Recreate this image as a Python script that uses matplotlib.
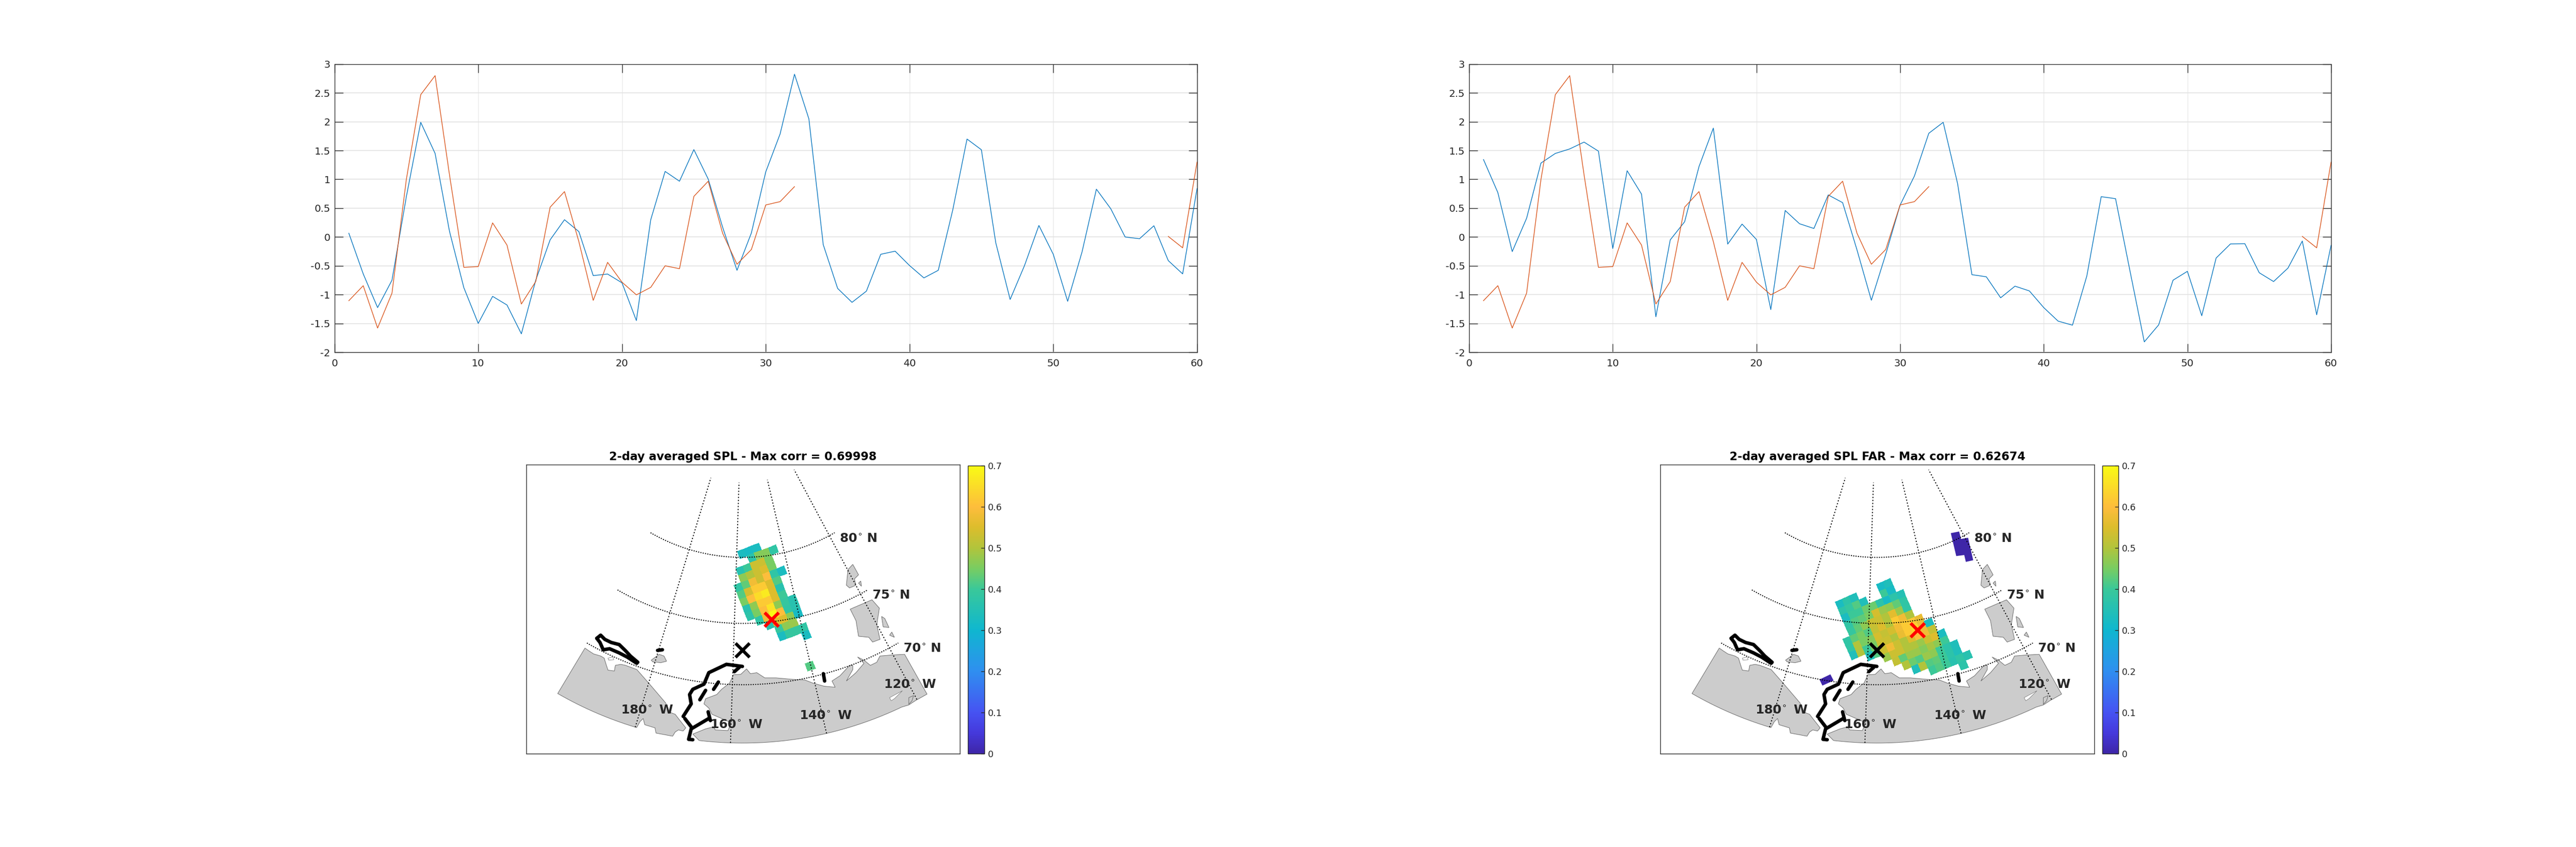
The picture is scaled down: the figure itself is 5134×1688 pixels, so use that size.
import numpy as np
import matplotlib
matplotlib.use("Agg")
import matplotlib.pyplot as plt
from matplotlib.colors import LinearSegmentedColormap
from matplotlib.cm import ScalarMappable
from matplotlib.colors import Normalize

W, H = 5134, 1688
n = np.nan

# ---- time series ----
days_orange = list(range(1, 33)) + [n] + [58, 59, 60]
orange = [-1.105, -0.845, -1.58, -0.975, 1.0, 2.47, 2.80, 1.08, -0.527, -0.513, 0.245, -0.14,
          -1.163, -0.773, 0.517, 0.788, -0.08, -1.10, -0.44, -0.784, -1.004, -0.874, -0.50, -0.55,
          0.705, 0.968, 0.065, -0.473, -0.217, 0.556, 0.614, 0.874, n, 0.01, -0.188, 1.30]
days = list(range(1, 61))
blue_near = [0.065, -0.64, -1.225, -0.75, 0.70, 1.99, 1.45, 0.10, -0.88, -1.5, -1.03, -1.18,
             -1.68, -0.75, -0.05, 0.30, 0.094, -0.67, -0.643, -0.795, -1.45, 0.30, 1.138, 0.968,
             1.517, 1.004, 0.17, -0.578, 0.07, 1.13, 1.79, 2.825, 2.05, -0.134, -0.892, -1.134,
             -0.94, -0.30, -0.246, -0.495, -0.71, -0.578, 0.46, 1.70, 1.514, -0.10, -1.084, -0.495,
             0.20, -0.30, -1.116, -0.26, 0.83, 0.49, 0.0, -0.03, 0.195, -0.41, -0.64, 0.84]
blue_far = [1.344, 0.77, -0.253, 0.325, 1.283, 1.45, 1.528, 1.647, 1.49, -0.2, 1.15, 0.744,
            -1.384, -0.05, 0.264, 1.22, 1.89, -0.123, 0.224, -0.043, -1.26, 0.46, 0.23, 0.148,
            0.73, 0.596, -0.224, -1.098, -0.30, 0.553, 1.06, 1.80, 1.99, 0.93, -0.654, -0.69,
            -1.055, -0.853, -0.936, -1.225, -1.46, -1.53, -0.676, 0.70, 0.665, -0.585, -1.82, -1.525,
            -0.75, -0.596, -1.366, -0.365, -0.12, -0.116, -0.62, -0.773, -0.54, -0.07, -1.35, -0.145]
yticks = [-2, -1.5, -1, -0.5, 0, 0.5, 1, 1.5, 2, 2.5, 3]
ylabels = ['-2', '-1.5', '-1', '-0.5', '0', '0.5', '1', '1.5', '2', '2.5', '3']
xticks = [0, 10, 20, 30, 40, 50, 60]

# ---- correlation maps, rows along one grid direction, columns along the other ----
corr_near = [
    [n, n, .33, .32, .33, n, n],
    [n, n, n, .37, .46, .46, .38],
    [n, .36, .40, .53, .53, .45, n],
    [n, .47, .50, .53, .55, .45, n],
    [.38, .43, .58, .53, .60, .38, .33],
    [.42, .54, .62, .62, .55, .42, n],
    [.45, .60, .65, .67, .55, .36, n],
    [.36, .47, .62, .62, .55, .40, n],
    [.37, .45, .60, .66, .47, .39, .36],
    [n, .38, .58, .70, .60, .38, .36],
    [n, n, .36, .55, .55, .47, .32],
    [n, n, n, .39, .47, .48, n],
    [n, n, n, .33, .39, .39, .38],
    [n, n, n, n, n, n, .33],
    [n, n, n, n, n, n, n],
    [n, n, n, n, n, n, n],
    [n, n, n, n, n, n, n],
    [n, n, n, n, n, .42, n],
]
corr_far = [
    [n, .33, .37, .34, n, n, n, .32, .34, n, n, n, n, n, n],
    [n, .37, .39, .42, .34, n, n, .40, .32, n, n, n, n, n, n],
    [n, .33, .40, .40, .44, .44, .37, .32, .37, .35, n, n, n, n, n],
    [n, .38, .42, .43, .45, .54, .48, .47, .43, .38, n, n, n, n, n],
    [n, .39, .43, .47, .53, .53, .50, .56, .48, .38, n, n, n, n, n],
    [.38, .43, .45, .42, .52, .55, .50, .62, .58, .50, n, n, n, n, n],
    [.38, .50, .45, .46, .54, .52, .54, .58, .62, .62, .57, n, n, n, n],
    [.34, .50, .40, .45, .53, .53, .50, .57, .62, .64, .58, .33, n, n, n],
    [n, n, .34, .42, .53, .58, .53, .50, .55, .60, .58, .52, n, n, n],
    [n, n, n, n, .48, .53, .53, .50, .50, .48, .53, .55, .33, n, n],
    [n, n, n, n, n, .52, .43, .48, .48, .46, .49, .47, .40, n, n],
    [n, n, n, n, n, n, .50, .44, .42, .48, .47, .40, .37, .34, n],
    [n, n, n, n, n, n, n, .34, .50, .42, .43, .40, .37, .34, n],
    [n, n, n, n, n, n, n, n, n, .40, .42, .40, .36, .38, .36],
    [n, n, n, n, n, n, n, n, n, n, n, n, n, .37, n],
]

siberia_x = [213, 225, 240, 262, 273, 280, 285, 305, 308, 325, 340, 375, 395, 415, 440, 465, 478, 495, 510, 528, 520, 505, 495, 487, 435, 432, 400, 395, 385]
siberia_y = [992, 1005, 1020, 1030, 1040, 1075, 1098, 1102, 1075, 1070, 1075, 1095, 1130, 1165, 1210, 1255, 1300, 1310, 1340, 1375, 1390, 1385, 1395, 1415, 1400, 1375, 1360, 1330, 1345]
siberia_arc = (-179.7, -197.5)
alaska_a_x, alaska_a_y = [1212, 1282, 1245, 1225], [1022, 1213, 1245, 1265]
alaska_arc = (-123.5, -166.5)
alaska_b_x = [550, 590, 615, 620, 660, 670, 640, 610, 600, 585, 590, 625, 640, 665, 677, 700, 718, 730, 750, 775, 810, 860, 900, 925, 960, 995, 985, 1010, 1040, 1050, 1050, 1030, 1060, 1085, 1065, 1085, 1105, 1125, 1135, 1175]
alaska_b_y = [1405, 1380, 1370, 1385, 1388, 1350, 1330, 1310, 1280, 1260, 1235, 1215, 1190, 1160, 1120, 1118, 1092, 1115, 1110, 1135, 1135, 1142, 1145, 1160, 1175, 1180, 1150, 1125, 1075, 1075, 1095, 1150, 1110, 1065, 1035, 1050, 1075, 1060, 1030, 1025]
islands = [
    ([420, 445, 460, 468, 450, 425], [1050, 1022, 1030, 1055, 1062, 1058]),
    ([1042, 1110, 1133, 1125, 1135, 1112, 1100, 1068, 1060], [805, 760, 800, 880, 950, 963, 940, 935, 860]),
    ([1030, 1035, 1050, 1068, 1055, 1060, 1040], [690, 615, 590, 640, 660, 690, 703]),
    ([1068, 1075, 1077], [680, 670, 695]),
    ([1140, 1150, 1163, 1145], [840, 850, 893, 890]),
    ([1165, 1172, 1180], [930, 915, 940]),
    ([1225, 1240, 1235, 1225], [1230, 1220, 1245, 1262]),
]
inlets = [
    ([1165, 1205, 1180, 1170], [1230, 1197, 1235, 1245]),
    ([285, 300, 303, 287], [1040, 1035, 1048, 1050]),
]
tracks = [
    ([250, 262, 275, 295, 320, 340, 355, 378], [945, 930, 950, 965, 975, 1005, 1030, 1060]),
    ([250, 260, 270, 290, 320, 345, 375], [945, 965, 1000, 995, 1015, 1035, 1065]),
    ([440, 455], [1003, 1000]),
    ([705, 655, 600, 585, 550, 540, 545, 520], [1080, 1070, 1110, 1165, 1190, 1215, 1260, 1320]),
    ([680, 695], [1105, 1085]),
    ([630, 615], [1155, 1190]),
    ([590, 572], [1195, 1240]),
    ([598, 605], [1298, 1340]),
    ([600, 545, 537, 550], [1330, 1380, 1430, 1432]),
    ([525, 545], [1330, 1370]),
    ([958, 962], [1115, 1150]),
]
near_low_x, near_low_y = [526, 560, 570, 535], [1143, 1118, 1148, 1172]
far_top_x = [936, 962, 968, 990, 1006, 983, 978, 953]
far_top_y = [440, 432, 468, 462, 570, 578, 545, 550]

meridians = [-180, -160, -140, -120]
parallels = [70, 75, 80]
lat_labels = [('80', 1008, 467), ('75', 1110, 740), ('70', 1207, 995)]
lon_labels = [('120', 1146, 1169), ('140', 883, 1319), ('160', 603, 1362), ('180', 325, 1292)]

cmap = LinearSegmentedColormap.from_list('parula_like', [
    (0.0, '#3e26a8'), (0.0714, '#4539dc'), (0.143, '#4653f2'), (0.286, '#2f8ff0'), (0.43, '#0fb7cf'),
    (0.57, '#39c89a'), (0.643, '#78cd62'), (0.714, '#b1c43c'), (0.786, '#dcbd2c'), (0.857, '#fdbd3c'), (1.0, '#f9fb15')])
norm = Normalize(0, 0.7)

plt.rcParams['axes.unicode_minus'] = False
plt.rcParams['mathtext.fontset'] = 'dejavusans'
DARK = '#262626'


def box(l, r, t, b):
    return [l / W, 1 - b / H, (r - l) / W, (b - t) / H]


def lambert(lon, lat):
    # conic with straight meridians, result in map frame units
    th = np.radians(0.75 * (np.asarray(lon) + 157.5))
    r = 2281 * np.tan(np.radians(90 - np.asarray(lat)) / 2) ** 0.75
    return 705.6 + 1.568 * r * np.sin(th), -328 + 2.41 * r * np.cos(th)


def arc65(ends):
    return lambert(np.linspace(ends[0], ends[1], 40), np.full(40, 65.0))


def series(pos, blue):
    ax = fig.add_axes(box(*pos))
    ax.plot(days, blue, color='#0072BD', lw=1.0, zorder=3)
    ax.plot(days_orange, orange, color='#D95319', lw=1.0, zorder=3)
    ax.set_xlim(0, 60)
    ax.set_ylim(-2, 3)
    ax.set_xticks(xticks)
    ax.set_yticks(yticks)
    ax.set_yticklabels(ylabels)
    ax.grid(True, axis='y', color='#e2e2e2', lw=1.2)
    ax.grid(True, axis='x', color='#e6e6e6', lw=0.8)
    ax.set_axisbelow(True)
    ax.tick_params(direction='in', top=True, right=True, length=12.5, width=1.0, color=DARK,
                   labelsize=14.4, labelcolor=DARK)
    ax.tick_params(axis='x', pad=9)
    ax.tick_params(axis='y', pad=6)
    for s in ax.spines.values():
        s.set_linewidth(1.0)
        s.set_color(DARK)


def corr_map(pos, cpos, title, corr, col0, origin, u, v, extra, red_x):
    ax = fig.add_axes(box(*pos))
    ax.set_xlim(29, 1384)
    ax.set_ylim(1499, 110)
    ax.set_xticks([])
    ax.set_yticks([])
    for s in ax.spines.values():
        s.set_linewidth(1.0)
        s.set_color(DARK)
    ax_arc_x, ax_arc_y = arc65(alaska_arc)
    ax.fill(np.r_[alaska_a_x, ax_arc_x, alaska_b_x], np.r_[alaska_a_y, ax_arc_y, alaska_b_y],
            fc='#cccccc', ec='#666666', lw=0.7, zorder=1)
    sb_arc_x, sb_arc_y = arc65(siberia_arc)
    ax.fill(np.r_[siberia_x, sb_arc_x], np.r_[siberia_y, sb_arc_y], fc='#cccccc', ec='#666666', lw=0.7, zorder=1)
    for ix, iy in islands:
        ax.fill(ix, iy, fc='#cccccc', ec='#666666', lw=0.7, zorder=1)
    for ix, iy in inlets:
        ax.fill(ix, iy, fc='white', ec='#666666', lw=0.5, zorder=1)

    # rotated grid of cells
    z = np.ma.masked_invalid(np.array(corr))
    jj, ii = np.meshgrid(np.arange(z.shape[1] + 1) + col0, np.arange(z.shape[0] + 1))
    xx = origin[0] + jj * u[0] + ii * v[0]
    yy = origin[1] + jj * u[1] + ii * v[1]
    ax.pcolormesh(xx, yy, z, cmap=cmap, norm=norm, edgecolors='face', lw=0.3, zorder=2)
    for ex, ey in extra:
        ax.fill(ex, ey, fc=cmap(0.0), ec='none', zorder=2)

    # graticule
    for lon in meridians:
        mx, my = lambert(np.full(60, lon), np.linspace(65, 85, 60))
        ax.plot(mx, my, color='k', lw=1.4, ls=(0, (1.2, 1.9)), zorder=3)
    for lat in parallels:
        mx, my = lambert(np.linspace(-197.5, -117.5, 120), np.full(120, lat))
        ax.plot(mx, my, color='k', lw=1.4, ls=(0, (1.1, 1.3)), zorder=3)

    for tx, ty in tracks:
        ax.plot(tx, ty, color='k', lw=5, solid_capstyle='round', solid_joinstyle='round', zorder=4)
    ax.plot([706], [1002], 'x', color='k', ms=19.5, mew=4.6, zorder=5)
    ax.plot([red_x[0]], [red_x[1]], 'x', color='r', ms=19.5, mew=4.6, zorder=6)

    for s, x, y in lat_labels:
        ax.text(x, y, r'$\mathbf{%s}^{\circ}\ \mathbf{N}$' % s, fontsize=18, color=DARK,
                va='center', ha='left', zorder=7)
    for s, x, y in lon_labels:
        ax.text(x, y, r'$\mathbf{%s}^{\circ}\ \,\mathbf{W}$' % s, fontsize=18, color=DARK,
                va='center', ha='left', zorder=7)
    ax.set_title(title, fontsize=16.5, fontweight='bold', pad=6, color='k')

    cax = fig.add_axes(box(*cpos))
    cb = fig.colorbar(ScalarMappable(norm=norm, cmap=cmap), cax=cax)
    cb.set_ticks([0, .1, .2, .3, .4, .5, .6, .7])
    cb.set_ticklabels(['0', '0.1', '0.2', '0.3', '0.4', '0.5', '0.6', '0.7'])
    cax.tick_params(direction='in', length=5, width=1.0, color=DARK, labelsize=13, labelcolor=DARK, pad=5)
    cb.outline.set_linewidth(1.0)
    cb.outline.set_edgecolor(DARK)


fig = plt.figure(figsize=(W / 100, H / 100), dpi=100, facecolor='white')

series((666.6, 2385.7, 127.8, 702), blue_near)
series((2928, 4645.8, 127.8, 702), blue_far)

corr_map((1048.5, 1912.6, 925.6, 1502), (1928.6, 1962, 927.7, 1502),
         '2-day averaged SPL - Max corr = 0.69998', corr_near, -2,
         (689.5, 528.5), (22.16, -13.18), (8.57, 34.05), [], (796, 855))
corr_map((3309.1, 4173.9, 925.6, 1502), (4190, 4222, 927.7, 1502),
         '2-day averaged SPL FAR - Max corr = 0.62674', corr_far, -1,
         (575.5, 771), (21.43, -13.98), (9.09, 32.94),
         [(near_low_x, near_low_y), (far_top_x, far_top_y)], (832, 907))

fig.savefig('out.png', dpi=100)
